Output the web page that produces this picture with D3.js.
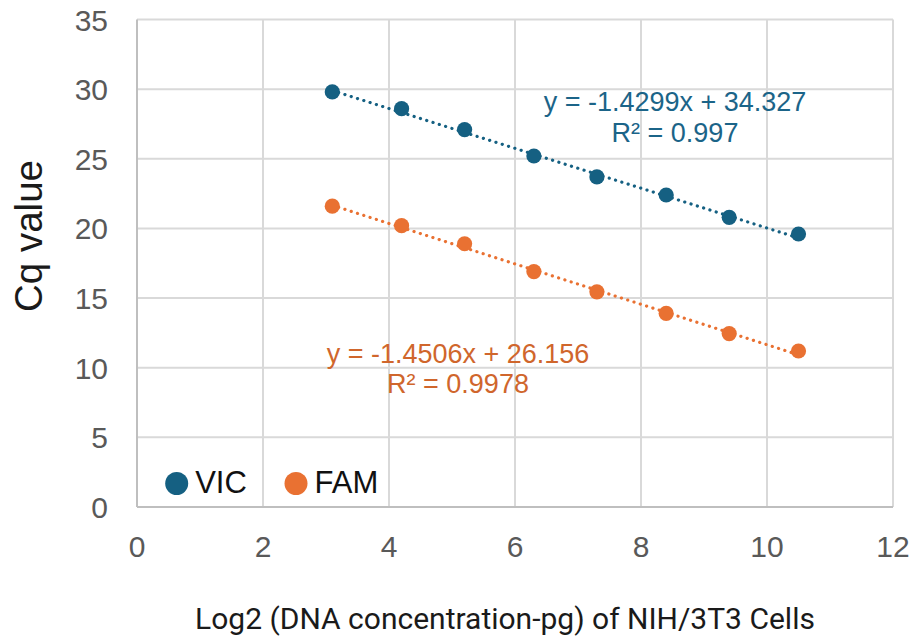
<!DOCTYPE html>
<html lang="en">
<head>
  <meta charset="UTF-8" />
  <title>Cq value vs Log2 DNA concentration</title>
  <script src="https://d3js.org/d3.v7.min.js"></script>
  <style>
    html, body { margin: 0; padding: 0; background: #fff; }
    svg { display: block; }
  </style>
</head>
<body>
  <svg id="chart" width="914" height="636"></svg>

  <script>
    // data
    const log2Conc = [3.1, 4.2, 5.2, 6.3, 7.3, 8.4, 9.4, 10.5];
    const vicCq = [29.8, 28.6, 27.1, 25.2, 23.7, 22.4, 20.8, 19.6];
    const famCq = [21.6, 20.2, 18.9, 16.9, 15.45, 13.9, 12.45, 11.2];

    const seriesNames = ["VIC", "FAM"];
    const seriesColors = ["#156082", "#e97132"];
    const labelColors = ["#1b6488", "#d0662c"];
    const slopes = [-1.4299, -1.4506];
    const intercepts = [34.327, 26.156];
    const eqTexts = ["y = -1.4299x + 34.327", "y = -1.4506x + 26.156"];
    const r2Texts = ["R\u00b2 = 0.997", "R\u00b2 = 0.9978"];

    const xTicks = [0, 2, 4, 6, 8, 10, 12];
    const yTicks = [0, 5, 10, 15, 20, 25, 30, 35];

    const svg = d3.select("#chart");
    const x = d3.scaleLinear().domain([0, 12]).range([137, 893]);
    const y = d3.scaleLinear().domain([0, 35]).range([507, 19.5]);

    const tickFont = "'Liberation Sans', Arial, sans-serif";

    // grid
    svg.append("g").selectAll("line")
      .data(xTicks.slice(1))
      .enter().append("line")
        .attr("x1", d => x(d)).attr("x2", d => x(d))
        .attr("y1", y(0)).attr("y2", y(35))
        .attr("stroke", "#d9d9d9").attr("stroke-width", 2);

    svg.append("g").selectAll("line")
      .data(yTicks.slice(1))
      .enter().append("line")
        .attr("x1", x(0)).attr("x2", x(12))
        .attr("y1", d => y(d)).attr("y2", d => y(d))
        .attr("stroke", "#d9d9d9").attr("stroke-width", 2);

    // axis lines
    svg.append("line")
      .attr("x1", x(0)).attr("x2", x(0)).attr("y1", y(0)).attr("y2", y(35))
      .attr("stroke", "#bfbfbf").attr("stroke-width", 2);
    svg.append("line")
      .attr("x1", x(0)).attr("x2", x(12)).attr("y1", y(0)).attr("y2", y(0))
      .attr("stroke", "#bfbfbf").attr("stroke-width", 2);

    // tick labels
    svg.append("g").selectAll("text")
      .data(yTicks)
      .enter().append("text")
        .attr("x", 108).attr("y", d => y(d) + 11)
        .attr("text-anchor", "end")
        .attr("font-family", tickFont).attr("font-size", 30)
        .attr("fill", "#595959")
        .text(d => d);

    svg.append("g").selectAll("text")
      .data(xTicks)
      .enter().append("text")
        .attr("x", d => x(d)).attr("y", 557)
        .attr("text-anchor", "middle")
        .attr("font-family", tickFont).attr("font-size", 30)
        .attr("fill", "#595959")
        .text(d => d);

    // axis titles
    svg.append("text")
      .attr("transform", "translate(42,236) rotate(-90)")
      .attr("text-anchor", "middle")
      .attr("font-family", tickFont).attr("font-size", 38.5)
      .attr("fill", "#1a1a1a")
      .text("Cq value");

    svg.append("text")
      .attr("x", 505).attr("y", 629)
      .attr("text-anchor", "middle")
      .attr("font-family", "Roboto, sans-serif").attr("font-size", 30)
      .attr("fill", "#1a1a1a")
      .text("Log2 (DNA concentration-pg) of NIH/3T3 Cells");

    // series
    const series = [vicCq, famCq];
    const xMin = d3.min(log2Conc), xMax = d3.max(log2Conc);

    series.forEach((vals, i) => {
      const g = svg.append("g");
      // linear trendline from the printed equation, over the data range
      g.append("line")
        .attr("x1", x(xMin)).attr("y1", y(slopes[i] * xMin + intercepts[i]))
        .attr("x2", x(xMax)).attr("y2", y(slopes[i] * xMax + intercepts[i]))
        .attr("stroke", seriesColors[i])
        .attr("stroke-width", 3.2)
        .attr("stroke-linecap", "round")
        .attr("stroke-dasharray", "0.1 6.5");

      g.selectAll("circle")
        .data(vals)
        .enter().append("circle")
          .attr("cx", (d, j) => x(log2Conc[j]))
          .attr("cy", d => y(d))
          .attr("r", 7.6)
          .attr("fill", seriesColors[i]);
    });

    // trendline labels
    const eqPos = [[675, 111, 142], [458, 363, 393]];
    eqPos.forEach((p, i) => {
      svg.append("text")
        .attr("x", p[0]).attr("y", p[1])
        .attr("text-anchor", "middle")
        .attr("font-family", tickFont).attr("font-size", 27)
        .attr("fill", labelColors[i])
        .text(eqTexts[i]);
      svg.append("text")
        .attr("x", p[0]).attr("y", p[2])
        .attr("text-anchor", "middle")
        .attr("font-family", tickFont).attr("font-size", 27)
        .attr("fill", labelColors[i])
        .text(r2Texts[i]);
    });

    // legend
    const legendX = [176.7, 296];
    seriesNames.forEach((name, i) => {
      svg.append("circle")
        .attr("cx", legendX[i]).attr("cy", 483.5).attr("r", 11.5)
        .attr("fill", seriesColors[i]);
      svg.append("text")
        .attr("x", legendX[i] + 18.5).attr("y", 492.5)
        .attr("font-family", tickFont).attr("font-size", 31)
        .attr("fill", "#111")
        .text(name);
    });
  </script>
</body>
</html>
